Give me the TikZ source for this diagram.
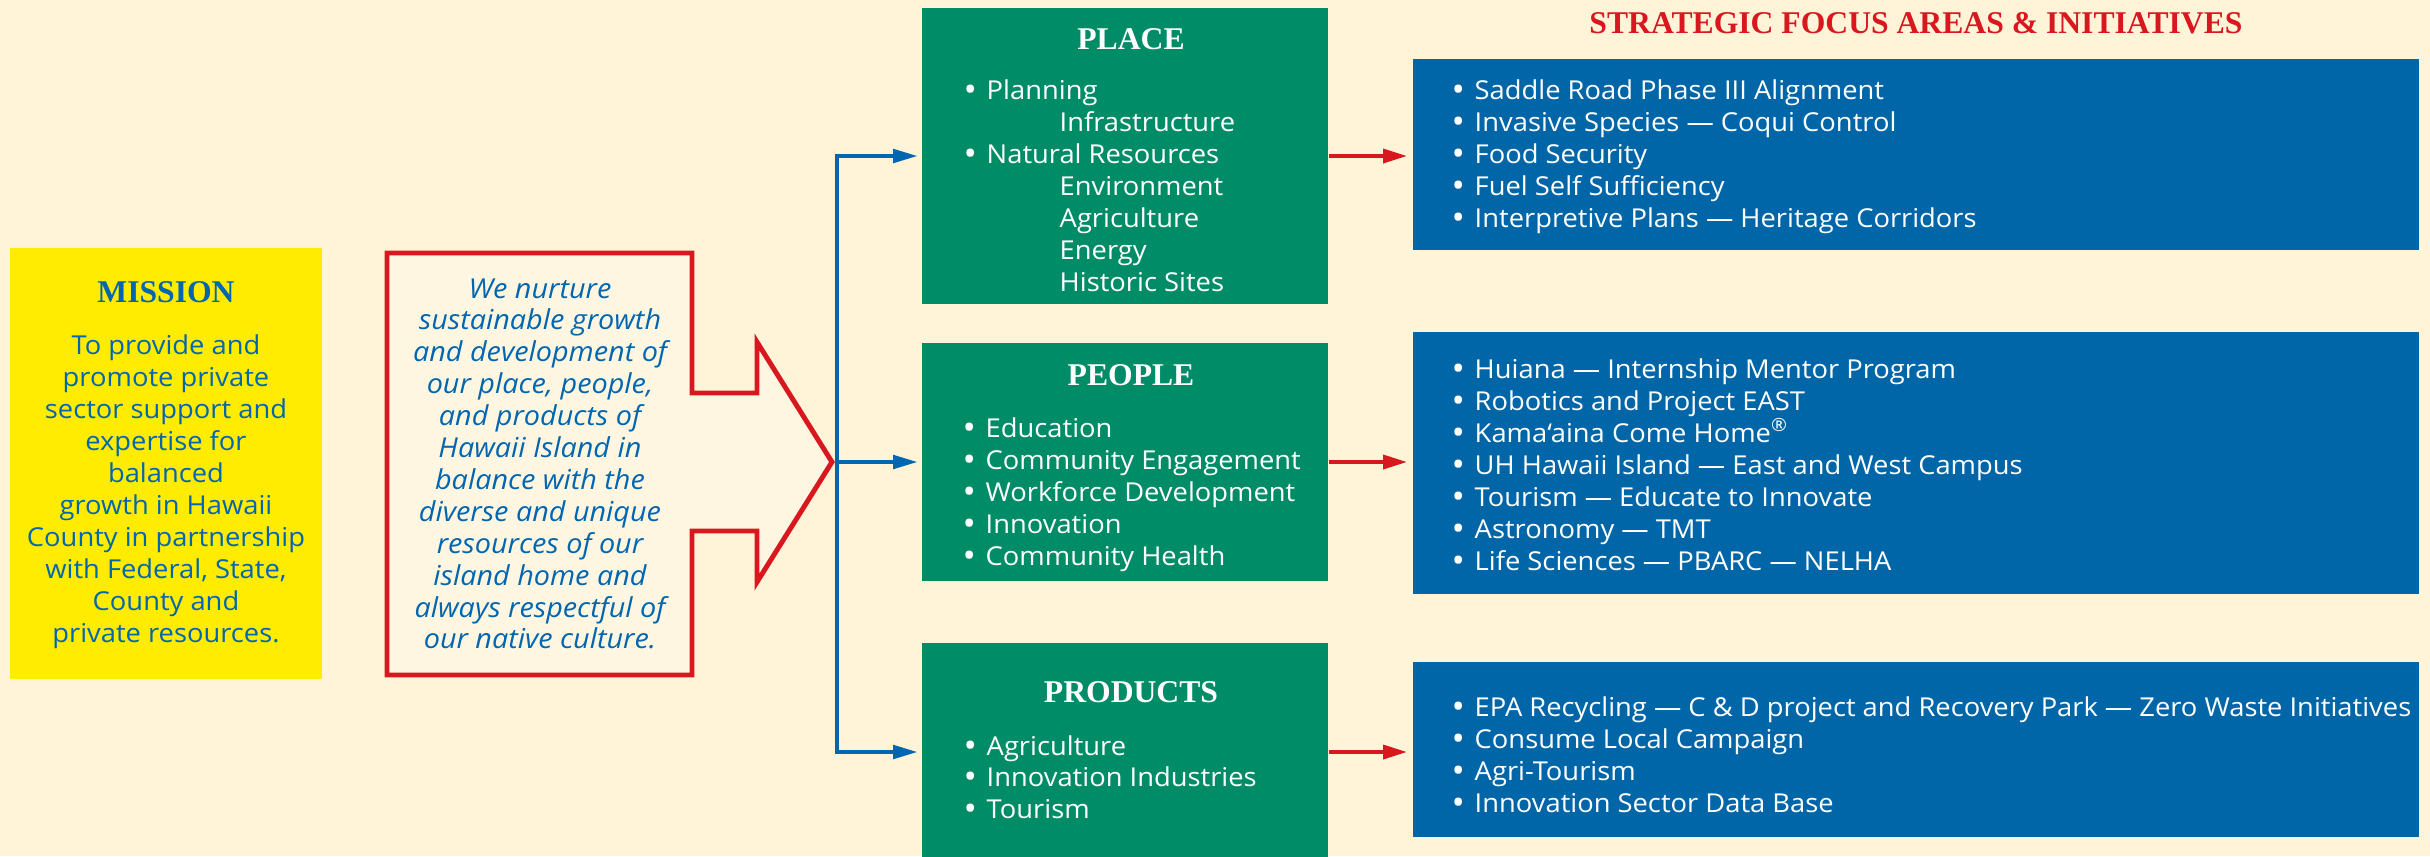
\documentclass[tikz,border=0pt]{standalone}
\usepackage{fontspec}
\setmainfont{Open Sans}[FakeStretch=1.05]
\newfontfamily\headfont{Liberation Serif}
\usetikzlibrary{arrows.meta}

\definecolor{cream}{HTML}{FFF4D8}
\definecolor{paper}{HTML}{FFF6E2}
\definecolor{sunyellow}{HTML}{FFEC00}
\definecolor{inkblue}{HTML}{0066B0}
\definecolor{leafgreen}{HTML}{008C67}
\definecolor{oceanblue}{HTML}{0066A8}
\definecolor{lavared}{HTML}{D8171F}

\tikzset{
  heading/.style={anchor=base, inner sep=0pt, font=\headfont\bfseries\fontsize{9}{11}\selectfont},
  bodyline/.style={anchor=base, inner sep=0pt, font=\fontsize{7.4}{9}\selectfont, text=inkblue},
  listitem/.style={anchor=base west, inner sep=0pt, font=\fontsize{7.4}{9}\selectfont, text=white},
  greenbox/.style={fill=leafgreen, inner sep=0pt, minimum width=4.06cm, minimum height=#1},
  focusbox/.style={fill=oceanblue, inner sep=0pt, minimum width=10.06cm, minimum height=#1},
  bluelink/.style={draw=inkblue, line width=1.15pt, -{Triangle[length=7pt,width=3.8pt]}, shorten >=1pt},
  redlink/.style={draw=lavared, line width=1.4pt, -{Triangle[length=7pt,width=3.8pt]}, shorten >=1.2pt},
}
\newcommand{\bul}{\makebox[0.23cm][l]{\raisebox{-0.15ex}{\scalebox{1.3}{•}}}}

\begin{document}
\begin{tikzpicture}[x=0.01cm, y=-0.01cm]
  % Fundo e moldura da figura
  \fill[cream] (0,0) rectangle (2430,856);
  \useasboundingbox (0,0) rectangle (2430,856);
  \def\gap{32}

  % Missao
  \node[fill=sunyellow, inner sep=0pt, minimum width=3.12cm, minimum height=4.31cm] (mission) at (166,463.5) {};
  \node[heading, text=inkblue] (mission-title) at (166,302) {MISSION};
  \foreach \t [count=\i from 0] in {To provide and, promote private, sector support and,
      expertise for, balanced, growth in Hawaii, County in partnership,
      {with Federal, State,}, County and, private resources.}
    \node[bodyline] (mission-\i) at (166,354+\gap*\i) {\t};

  % Visao (seta vermelha)
  \coordinate (tip) at (832,462);
  \coordinate (split) at (837,462);
  \draw[lavared, line width=1.4pt, fill=paper] (387,253) -- (692,253) -- (692,393) -- (757,393)
    -- (757,342) -- (tip) -- (757,582) -- (757,531) -- (692,531) -- (692,675) -- (387,675) -- cycle;
  \foreach \t [count=\i from 0] in {We nurture, sustainable growth, and development of,
      {our place, people,}, and products of, Hawaii Island in, balance with the,
      diverse and unique, resources of our, island home and, always respectful of,
      our native culture.}
    \node[bodyline, font=\itshape\fontsize{7.8}{9}\selectfont] (vision-\i) at (540,298+31.9*\i) {\t};

  % Pilares: lugar, pessoas, produtos
  \node[greenbox=2.96cm] (place) at (1125,156) {};
  \node[greenbox=2.38cm] (people) at (1125,462) {};
  \node[greenbox=2.18cm] (products) at (1125,752) {};
  \node[heading, text=white] (place-title) at (1131,49) {PLACE};
  \node[heading, text=white] (people-title) at (1131,385) {PEOPLE};
  \node[heading, text=white] (products-title) at (1131,702) {PRODUCTS};
  \foreach \dx/\t [count=\i from 0] in {0/{\bul Planning}, 96/Infrastructure,
      0/{\bul Natural Resources}, 96/Environment, 96/Agriculture, 96/Energy, 96/Historic Sites}
    \node[listitem] (place-\i) at (963+\dx,99+\gap*\i) {\t};
  \foreach \t [count=\i from 0] in {Education, Community Engagement, Workforce Development,
      Innovation, Community Health}
    \node[listitem] (people-\i) at (962,437+\gap*\i) {\bul\t};
  \foreach \t [count=\i from 0] in {Agriculture, Innovation Industries, Tourism}
    \node[listitem] (products-\i) at (963,755+31.5*\i) {\bul\t};

  % Areas de foco estrategico
  \node[heading, text=lavared] (focus-title) at (1916,33) {STRATEGIC FOCUS AREAS \& INITIATIVES};
  \node[focusbox=1.91cm] (place-focus) at (1916,154.5) {};
  \node[focusbox=2.62cm] (people-focus) at (1916,463) {};
  \node[focusbox=1.75cm] (products-focus) at (1916,749.5) {};
  \foreach \t [count=\i from 0] in {Saddle Road Phase III Alignment,
      Invasive Species — Coqui Control, Food Security, Fuel Self Sufficiency,
      Interpretive Plans — Heritage Corridors}
    \node[listitem] (place-focus-\i) at (1451,99+\gap*\i) {\bul\t};
  \foreach \t [count=\i from 0] in {Huiana — Internship Mentor Program,
      Robotics and Project EAST, Kama‘aina Come Home\textsuperscript{®},
      UH Hawaii Island — East and West Campus, Tourism — Educate to Innovate,
      Astronomy — TMT, Life Sciences — PBARC — NELHA}
    \node[listitem] (people-focus-\i) at (1451,378+\gap*\i) {\bul\t};
  \foreach \t [count=\i from 0] in {EPA Recycling — C \& D project and Recovery Park — Zero Waste Initiatives,
      Consume Local Campaign, Agri-Tourism, Innovation Sector Data Base}
    \node[listitem] (products-focus-\i) at (1451,716+\gap*\i) {\bul\t};

  % Ligacoes
  \draw[bluelink] (split) |- (place.west);
  \draw[bluelink] (split) -- (people.west);
  \draw[bluelink] (split) |- (products.west);
  \draw[redlink] (place.east) -- (place.east -| place-focus.west);
  \draw[redlink] (people.east) -- (people.east -| people-focus.west);
  \draw[redlink] (products.east) -- (products.east -| products-focus.west);
\end{tikzpicture}
\end{document}
